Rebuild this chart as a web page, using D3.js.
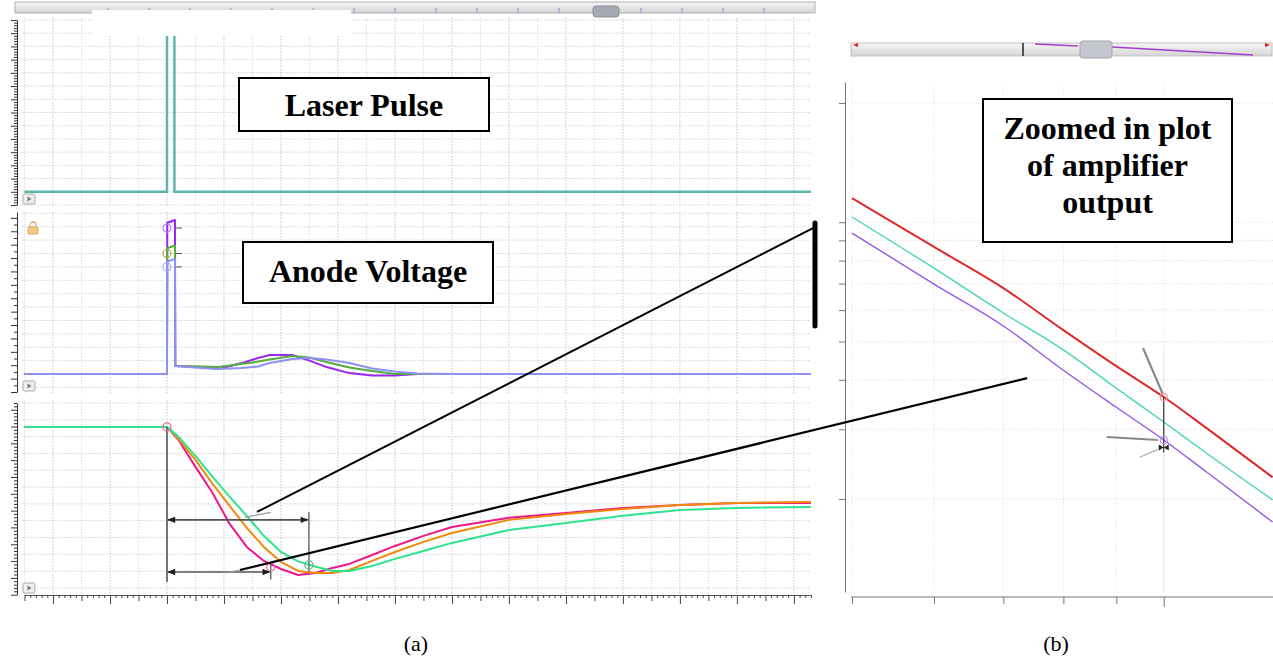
<!DOCTYPE html>
<html>
<head>
<meta charset="utf-8">
<script src="https://cdn.jsdelivr.net/npm/d3@7"></script>
<style>
body { margin: 0; background: #fff; }
svg { display: block; }
.lbl { font-family: "Liberation Serif", "Times New Roman", serif; font-weight: bold; font-size: 32px; }
.cap { font-family: "Liberation Serif", "Times New Roman", serif; font-size: 22px; }
</style>
</head>
<body>
<svg id="fig" width="1273" height="666"></svg>
<script>
// scope traces, time in scope units (10 = one major division)
var laserTime = [-5, 20, 20, 21.3, 21.3, 133];
var laserLevel = [0, 0, 14, 14, 0, 0];

var anodeTime   = [-5, 20, 20.05, 21.4, 21.45, 26, 29, 33, 36, 38, 42, 45, 48, 52, 56, 60, 64, 70, 133];
var anodePurple = [0, 0, 11.3, 11.5, 0.6, 0.52, 0.37, 0.8, 1.2, 1.42, 1.42, 1.0, 0.52, 0.07, -0.1, -0.1, 0, 0, 0];
var anodeGreen  = [0, 0, 9.4, 9.6, 0.6, 0.56, 0.52, 0.75, 0.93, 1.08, 1.34, 1.23, 0.9, 0.49, 0.22, 0, 0, 0, 0];
var anodeBlue   = [0, 0, 8.4, 8.6, 0.6, 0.45, 0.37, 0.45, 0.56, 0.82, 1.12, 1.19, 1.08, 0.82, 0.41, 0.19, 0.04, 0, 0];

var ampTime   = [-5, 20, 22, 25, 28, 31, 34, 37, 40, 43, 46, 49, 52, 56, 60, 65, 70, 80, 90, 100, 110, 120, 133];
var ampPink   = [9.58, 9.58, 8.81, 7.20, 5.65, 3.81, 2.44, 1.61, 1.13, 0.77, 0.89, 1.19, 1.43, 1.96, 2.50, 3.10, 3.63, 4.17, 4.46, 4.76, 4.94, 5.06, 5.06];
var ampOrange = [9.58, 9.58, 8.87, 7.62, 6.19, 4.88, 3.57, 2.44, 1.55, 1.01, 0.89, 0.89, 1.07, 1.61, 2.14, 2.74, 3.27, 4.05, 4.40, 4.70, 4.94, 5.06, 5.12];
var ampGreen  = [9.58, 9.58, 9.0, 7.86, 6.61, 5.42, 4.29, 3.10, 2.14, 1.58, 1.28, 1.01, 1.01, 1.31, 1.73, 2.20, 2.68, 3.45, 3.87, 4.29, 4.64, 4.76, 4.82];

// zoomed plot (log axes)
var zoomX      = [5, 6, 7, 8, 9, 10, 11, 12.74];
var zoomRed    = [11.51, 8.66, 6.82, 5.34, 4.33, 3.62, 3.02, 2.27];
var zoomGreen  = [10.31, 7.66, 5.90, 4.76, 3.81, 3.13, 2.61, 1.99];
var zoomPurple = [9.39, 6.98, 5.47, 4.23, 3.41, 2.82, 2.34, 1.75];
var zoomXTicks = [5, 6, 7, 8, 9, 10];
var zoomYTicks = [2, 3, 4, 5, 6, 7, 8, 9, 10, 20];

// cursors on the amplifier panel
var cursorStart = 20, cursorA = 44.9, cursorB = 38.2;
var arrowLevelA = 4.05, arrowLevelB = 0.95;

var svg = d3.select('#fig');
var defs = svg.append('defs');

var xT = d3.scaleLinear().domain([-5, 133]).range([24.5, 811]);
var y1 = d3.scaleLinear().domain([-1, 13]).range([205, 20]);
var y2 = d3.scaleLinear().domain([-1.34, 12.1]).range([392, 212]);
var y3 = d3.scaleLinear().domain([-0.4, 11]).range([594.7, 403]);
var xZ = d3.scaleLog().domain([5, 12.75]).range([852, 1273]);
var yZ = d3.scaleLog().domain([1.165, 22.6]).range([592, 82]);

var panels = [
  {id: 'p1', y: y1, top: 18, bottom: 206, step: 0.2, major: 5},
  {id: 'p2', y: y2, top: 212, bottom: 393, step: 0.5, major: 2},
  {id: 'p3', y: y3, top: 400, bottom: 595, step: 0.2, major: 5}
];

var grad = defs.append('linearGradient').attr('id', 'bar').attr('x1', 0).attr('x2', 0).attr('y1', 0).attr('y2', 1);
grad.append('stop').attr('offset', 0).attr('stop-color', '#f7f7f7');
grad.append('stop').attr('offset', 1).attr('stop-color', '#d4d4d4');

defs.append('marker').attr('id', 'arr').attr('viewBox', '0 0 10 10')
  .attr('refX', 9).attr('refY', 5).attr('markerWidth', 9).attr('markerHeight', 8)
  .attr('markerUnits', 'userSpaceOnUse').attr('orient', 'auto-start-reverse')
  .append('path').attr('d', 'M0,1L10,5L0,9Z').attr('fill', '#222');

panels.forEach(function(p) {
  defs.append('clipPath').attr('id', 'clip' + p.id).append('rect')
    .attr('x', 22).attr('y', p.top).attr('width', 790).attr('height', p.bottom - p.top);

  var g = svg.append('g');
  var yd = p.y.domain();
  // grid
  g.selectAll('.vg').data(d3.range(-5, 134, 5)).enter().append('line')
    .attr('x1', function(d) { return xT(d); }).attr('x2', function(d) { return xT(d); })
    .attr('y1', p.top).attr('y2', p.bottom)
    .attr('stroke', function(d) { return d % 10 == 0 ? '#c4c4c4' : '#dcdcdc'; })
    .attr('stroke-dasharray', '1.5,1.5');
  g.selectAll('.hg').data(d3.range(Math.ceil(yd[0]), yd[1] + 0.001, 1)).enter().append('line')
    .attr('x1', 22).attr('x2', 811)
    .attr('y1', function(d) { return p.y(d); }).attr('y2', function(d) { return p.y(d); })
    .attr('stroke', '#d2d2d2').attr('stroke-dasharray', '1.5,1.5');

  // ruler on the left
  var vals = d3.range(yd[0], yd[1] + 1e-6, p.step);
  var ax = svg.append('g').attr('transform', 'translate(17,0)')
    .call(d3.axisLeft(p.y).tickValues(vals).tickFormat('').tickSize(3).tickSizeOuter(0));
  ax.selectAll('.tick line').attr('x2', function(d, i) { return i % p.major == 0 ? -6 : -3; }).attr('stroke', '#333');
  ax.select('.domain').attr('stroke', '#333');

  // play button
  var pb = svg.append('g').attr('transform', 'translate(23,' + (p.bottom - 12) + ')');
  pb.append('rect').attr('width', 12).attr('height', 10).attr('rx', 1.5).attr('fill', '#eee').attr('stroke', '#aaa');
  pb.append('path').attr('d', 'M4.5,2.5L8.5,5L4.5,7.5Z').attr('fill', '#777');
});

// bottom time axis
var xa = svg.append('g').attr('transform', 'translate(0,595)')
  .call(d3.axisBottom(xT).tickValues(d3.range(-5, 134, 1)).tickFormat('').tickSizeOuter(0));
xa.selectAll('.tick line').attr('y2', function(d) { return d % 10 == 0 ? 9 : (d % 5 == 0 ? 6 : 3); }).attr('stroke', '#444');
xa.select('.domain').attr('stroke', '#555');

function traceLine(t, y) {
  return d3.line().x(function(d, i) { return xT(t[i]); }).y(function(d) { return y(d); });
}

// laser pulse
svg.append('g').attr('clip-path', 'url(#clipp1)').append('path')
  .attr('d', traceLine(laserTime, y1)(laserLevel))
  .attr('fill', 'none').attr('stroke', '#5cb6ae').attr('stroke-width', 2.5);

// anode voltage
var g2 = svg.append('g').attr('clip-path', 'url(#clipp2)');
[[anodePurple, '#9b25f2'], [anodeGreen, '#55ab3f'], [anodeBlue, '#8f90f2']].forEach(function(s) {
  g2.append('path').attr('d', traceLine(anodeTime, y2)(s[0]))
    .attr('fill', 'none').attr('stroke', s[1]).attr('stroke-width', 2).attr('stroke-linejoin', 'round');
});
[[anodePurple, '#b57df5'], [anodeGreen, '#a6a64a'], [anodeBlue, '#a6a8f2']].forEach(function(s) {
  g2.append('circle').attr('cx', xT(20)).attr('cy', y2(s[0][2] - 0.4)).attr('r', 4)
    .attr('fill', 'none').attr('stroke', s[1]).attr('stroke-width', 1.2);
  g2.append('line').attr('x1', xT(21.6)).attr('x2', xT(22.6))
    .attr('y1', y2(s[0][2] - 0.4)).attr('y2', y2(s[0][2] - 0.4)).attr('stroke', '#555');
});
// lock icon
var lk = svg.append('g').attr('transform', 'translate(28,222)');
lk.append('path').attr('d', 'M2,5V3a3,3 0 0 1 6,0V5').attr('fill', 'none').attr('stroke', '#d9b070').attr('stroke-width', 1.3);
lk.append('rect').attr('y', 5).attr('width', 10).attr('height', 7).attr('rx', 1).attr('fill', '#f3c98a').attr('stroke', '#d9a860');

// amplifier output
var g3 = svg.append('g').attr('clip-path', 'url(#clipp3)');
[[ampPink, '#f0168c'], [ampOrange, '#ef8a0a'], [ampGreen, '#2fe38e']].forEach(function(s) {
  g3.append('path').attr('d', traceLine(ampTime, y3)(s[0]))
    .attr('fill', 'none').attr('stroke', s[1]).attr('stroke-width', 2).attr('stroke-linejoin', 'round');
});

// cursors / measurement arrows
g3.append('line').attr('x1', xT(cursorStart)).attr('x2', xT(cursorStart))
  .attr('y1', y3(ampPink[1])).attr('y2', y3(0.36)).attr('stroke', '#555').attr('stroke-width', 1.6);
g3.append('line').attr('x1', xT(cursorA)).attr('x2', xT(cursorA))
  .attr('y1', y3(arrowLevelA + 0.45)).attr('y2', y3(arrowLevelB)).attr('stroke', '#666').attr('stroke-width', 1.4);
g3.append('line').attr('x1', xT(cursorB)).attr('x2', xT(cursorB))
  .attr('y1', y3(arrowLevelB + 0.45)).attr('y2', y3(arrowLevelB - 0.45)).attr('stroke', '#666').attr('stroke-width', 1.4);
[[cursorA, arrowLevelA], [cursorB, arrowLevelB]].forEach(function(a) {
  g3.append('line').attr('x1', xT(cursorStart) + 1).attr('x2', xT(a[0]) - 1)
    .attr('y1', y3(a[1])).attr('y2', y3(a[1]))
    .attr('stroke', '#555').attr('stroke-width', 1.6)
    .attr('marker-start', 'url(#arr)').attr('marker-end', 'url(#arr)');
});
g3.append('circle').attr('cx', xT(cursorStart)).attr('cy', y3(ampPink[1])).attr('r', 4)
  .attr('fill', 'none').attr('stroke', '#f06aa8').attr('stroke-width', 1.3);
g3.append('circle').attr('cx', xT(cursorB)).attr('cy', y3(1.25)).attr('r', 4)
  .attr('fill', 'none').attr('stroke', '#f06aa8').attr('stroke-width', 1.3);
g3.append('circle').attr('cx', xT(cursorA)).attr('cy', y3(1.37)).attr('r', 4)
  .attr('fill', 'none').attr('stroke', '#5cb88a').attr('stroke-width', 1.3);

// top scroll bar of the scope view
svg.append('rect').attr('x', 15).attr('y', 2).attr('width', 800).attr('height', 11)
  .attr('fill', 'url(#bar)').attr('stroke', '#b0b0b0');
svg.selectAll('.sbt').data(d3.range(0, 17)).enter().append('line')
  .attr('x1', function(d) { return 108 + d * 41; }).attr('x2', function(d) { return 108 + d * 41; })
  .attr('y1', 8).attr('y2', 13).attr('stroke', '#8a8ae0');
svg.append('rect').attr('x', 593).attr('y', 6).attr('width', 26).attr('height', 11).attr('rx', 3)
  .attr('fill', '#a4a9b2').attr('stroke', '#8a8f98');
svg.append('rect').attr('x', 92).attr('y', 10).attr('width', 259).attr('height', 26).attr('fill', '#fff');

// right: zoomed plot
defs.append('clipPath').attr('id', 'clipR').append('rect')
  .attr('x', 846).attr('y', 82).attr('width', 427).attr('height', 510);
var gr = svg.append('g');
gr.selectAll('.zvg').data(zoomXTicks).enter().append('line')
  .attr('x1', function(d) { return xZ(d); }).attr('x2', function(d) { return xZ(d); })
  .attr('y1', 85).attr('y2', 592).attr('stroke', '#e6e6e6').attr('stroke-dasharray', '1.5,1.5');
gr.selectAll('.zhg').data(zoomYTicks).enter().append('line')
  .attr('x1', 852).attr('x2', 1273)
  .attr('y1', function(d) { return yZ(d); }).attr('y2', function(d) { return yZ(d); })
  .attr('stroke', '#e6e6e6').attr('stroke-dasharray', '1.5,1.5');

var zya = svg.append('g').attr('transform', 'translate(845,0)')
  .call(d3.axisLeft(yZ).tickValues(zoomYTicks).tickFormat('').tickSize(6).tickSizeOuter(0));
zya.selectAll('line, path').attr('stroke', '#777');
var zxa = svg.append('g').attr('transform', 'translate(0,597)')
  .call(d3.axisBottom(xZ).tickValues(zoomXTicks).tickFormat('').tickSize(7).tickSizeOuter(0));
zxa.selectAll('line, path').attr('stroke', '#777');
zxa.selectAll('.tick line').attr('y2', function(d) { return d == 10 ? 10 : 7; });
zxa.select('.domain').attr('d', 'M851,0H1273');

var zl = d3.line().x(function(d, i) { return xZ(zoomX[i]); }).y(function(d) { return yZ(d); }).curve(d3.curveMonotoneX);
var gz = svg.append('g').attr('clip-path', 'url(#clipR)');
gz.append('line').attr('x1', xZ(10)).attr('x2', xZ(10)).attr('y1', 350).attr('y2', 592)
  .attr('stroke', '#ddd').attr('stroke-dasharray', '1.5,1.5');
[[zoomRed, '#de2a2a', 2], [zoomGreen, '#45d9a4', 1.4], [zoomPurple, '#9358e8', 1.4]].forEach(function(s) {
  gz.append('path').attr('d', zl(s[0])).attr('fill', 'none').attr('stroke', s[1]).attr('stroke-width', s[2]);
});
gz.append('line').attr('x1', xZ(10)).attr('x2', xZ(10)).attr('y1', yZ(zoomRed[5])).attr('y2', yZ(2.62))
  .attr('stroke', '#333').attr('stroke-width', 1.2);
gz.append('line').attr('x1', xZ(9.55)).attr('y1', yZ(4.81)).attr('x2', xZ(9.98)).attr('y2', yZ(3.68))
  .attr('stroke', '#888').attr('stroke-width', 2.2);
gz.append('line').attr('x1', xZ(8.81)).attr('y1', yZ(2.87)).attr('x2', xZ(9.87)).attr('y2', yZ(2.82))
  .attr('stroke', '#888').attr('stroke-width', 2);
gz.append('line').attr('x1', xZ(9.48)).attr('y1', yZ(2.55)).attr('x2', xZ(9.87)).attr('y2', yZ(2.67))
  .attr('stroke', '#aaa').attr('stroke-width', 1.2);
gz.append('circle').attr('cx', xZ(10)).attr('cy', yZ(zoomRed[5])).attr('r', 3.5)
  .attr('fill', 'none').attr('stroke', '#f09090').attr('stroke-width', 1.2);
gz.append('circle').attr('cx', xZ(10)).attr('cy', yZ(zoomPurple[5])).attr('r', 3.5)
  .attr('fill', 'none').attr('stroke', '#b690f0').attr('stroke-width', 1.2);
gz.append('path').attr('transform', 'translate(' + xZ(10) + ',' + yZ(2.7) + ')')
  .attr('d', 'M-5,-3L0,0L-5,3ZM5,-3L0,0L5,3Z').attr('fill', '#222');

// right scroll bar
svg.append('rect').attr('x', 851).attr('y', 43).attr('width', 421).attr('height', 13)
  .attr('fill', 'url(#bar)').attr('stroke', '#c0c0c0');
svg.append('line').attr('x1', 1023).attr('x2', 1023).attr('y1', 43).attr('y2', 56).attr('stroke', '#222').attr('stroke-width', 1.5);
svg.append('path').attr('d', 'M1035,44L1078,46M1112,47L1253,55').attr('stroke', '#a040c8').attr('stroke-width', 1.3);
svg.append('rect').attr('x', 1080).attr('y', 41).attr('width', 32).attr('height', 17).attr('rx', 3)
  .attr('fill', '#c4c8ce').attr('stroke', '#a2a6ae');
svg.append('path').attr('d', 'M853,45L858,43V47ZM1270,45L1265,43V47Z').attr('fill', '#e02020');

// annotation lines between plots
svg.append('line').attr('x1', xT(35.8)).attr('y1', y3(4.52)).attr('x2', xT(133.7)).attr('y2', y2(10.97))
  .attr('stroke', '#000').attr('stroke-width', 2);
svg.append('line').attr('x1', xT(32.8)).attr('y1', y3(1.07)).attr('x2', xZ(7.38)).attr('y2', yZ(4.04))
  .attr('stroke', '#000').attr('stroke-width', 2.2);
svg.append('line').attr('x1', xT(33.7)).attr('y1', y3(4.2)).attr('x2', xT(38.2)).attr('y2', y3(4.5))
  .attr('stroke', '#999').attr('stroke-width', 1.2);
svg.append('line').attr('x1', xT(30.5)).attr('y1', y3(0.9)).attr('x2', xT(32.8)).attr('y2', y3(1.07))
  .attr('stroke', '#999').attr('stroke-width', 1.2);
svg.append('line').attr('x1', xT(133.7)).attr('x2', xT(133.7)).attr('y1', y2(11.27)).attr('y2', y2(3.58))
  .attr('stroke', '#000').attr('stroke-width', 5).attr('stroke-linecap', 'round');

// label boxes
function labelBox(x, y, w, h, lines, y0) {
  var b = svg.append('g');
  b.append('rect').attr('x', x).attr('y', y).attr('width', w).attr('height', h)
    .attr('fill', '#fff').attr('stroke', '#000').attr('stroke-width', 2);
  lines.forEach(function(t, i) {
    b.append('text').attr('class', 'lbl').attr('x', x + w / 2).attr('y', y0 + i * 37)
      .attr('text-anchor', 'middle').text(t);
  });
}
labelBox(239, 78, 250, 53, ['Laser Pulse'], 116);
labelBox(243, 242, 250, 61, ['Anode Voltage'], 282);
labelBox(983, 99, 249, 143, ['Zoomed in plot', 'of amplifier', 'output'], 139);

svg.append('text').attr('class', 'cap').attr('x', 416).attr('y', 651).attr('text-anchor', 'middle').text('(a)');
svg.append('text').attr('class', 'cap').attr('x', 1056).attr('y', 651).attr('text-anchor', 'middle').text('(b)');
</script>
</body>
</html>
